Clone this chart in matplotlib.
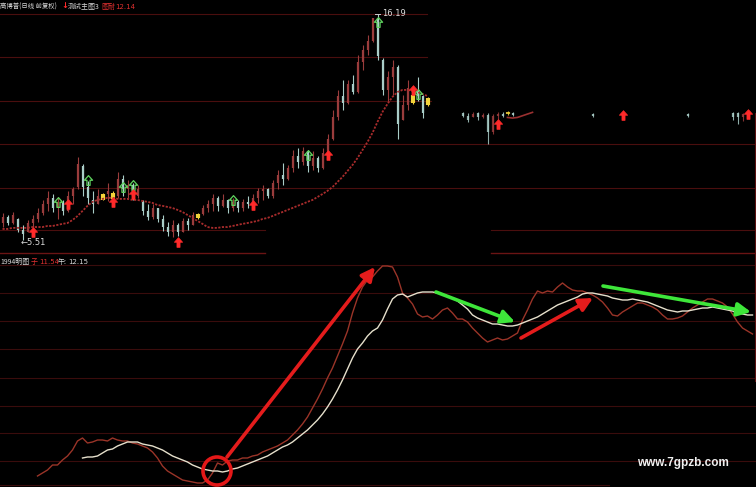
import numpy as np
import matplotlib
matplotlib.use("Agg")
import matplotlib.pyplot as plt
from matplotlib.path import Path
from matplotlib.patches import Ellipse

plt.rcParams['font.family'] = ['Noto Sans CJK SC', 'DejaVu Sans']

# ---------------- data: main chart (daily candles, price) ----------------
opens = [6.3, 6.6, 6.3, 6.5, 6.0, 5.9, 6.3, 6.5, 6.8, 7.2,
         7.5, 7.0, 7.3, 6.9, 7.6, 8.0, 9.0, 8.0, 7.4, 7.2,
         7.4, 7.7, 7.45, 7.6, 8.4, 7.9, 8.1, 7.6, 7.3, 6.9,
         6.6, 7.0, 6.5, 6.1, 5.9, 6.2, 5.9, 6.4, 6.2, 6.55,
         6.75, 7.0, 7.2, 7.5, 7.1, 7.4, 7.0, 7.3, 7.0, 7.3,
         7.2, 7.5, 7.8, 7.9, 7.6, 8.2, 8.6, 8.4, 8.9, 9.5,
         9.2, 9.7, 9.0, 9.4, 8.9, 9.6, 10.3, 11.3, 12.3, 12.0,
         12.9, 12.5, 13.9, 14.5, 14.9, 16.0, 14.0, 12.6, 13.2, 13.7,
         11.2, 11.9, 12.0, 12.6, 12.3, 11.9]
highs = [6.8, 6.7, 6.85, 6.55, 6.2, 6.45, 6.7, 7.0, 7.4, 7.8,
         7.7, 7.55, 7.4, 7.8, 8.0, 9.43, 9.1, 8.3, 7.8, 7.9,
         7.75, 8.2, 7.8, 8.7, 8.6, 8.35, 8.2, 8.1, 7.4, 7.2,
         7.2, 7.0, 6.7, 6.35, 6.45, 6.3, 6.55, 6.55, 6.85, 6.8,
         7.15, 7.4, 7.7, 7.6, 7.7, 7.45, 7.5, 7.4, 7.45, 7.6,
         7.7, 7.95, 8.1, 7.95, 8.35, 8.8, 9.15, 9.05, 9.76, 9.85,
         9.9, 9.76, 9.7, 9.5, 9.85, 10.5, 11.65, 12.6, 13.07, 13.07,
         13.3, 14.25, 14.7, 15.2, 16.0, 16.19, 14.1, 13.5, 14.0, 13.8,
         12.35, 13.07, 12.4, 13.2, 12.35, 12.25]
lows = [6.1, 6.2, 6.25, 5.9, 5.51, 5.9, 6.1, 6.35, 6.7, 6.9,
        6.85, 6.5, 6.7, 6.85, 7.2, 7.9, 7.6, 7.2, 6.8, 7.2,
        7.4, 7.35, 7.4, 7.5, 7.6, 7.5, 7.4, 7.5, 6.7, 6.45,
        6.5, 6.35, 5.95, 5.7, 5.65, 5.7, 5.9, 6.0, 6.2, 6.5,
        6.7, 6.85, 6.9, 6.9, 7.05, 6.8, 6.9, 6.85, 6.9, 7.0,
        7.05, 7.25, 7.4, 7.5, 7.5, 7.9, 8.1, 8.35, 8.7, 8.9,
        9.05, 8.7, 8.8, 8.7, 8.85, 9.5, 10.24, 11.2, 11.65, 11.95,
        12.4, 12.45, 13.54, 14.25, 14.85, 14.0, 12.35, 12.1, 12.35, 10.3,
        11.2, 11.65, 11.95, 12.1, 11.25, 11.85]
closes = [6.6, 6.3, 6.7, 6.0, 5.8, 6.3, 6.5, 6.8, 7.2, 7.5,
          7.0, 7.3, 6.9, 7.6, 7.9, 9.1, 8.0, 7.5, 7.2, 7.6,
          7.7, 7.8, 7.75, 8.4, 7.9, 8.1, 7.6, 7.9, 6.9, 6.6,
          7.0, 6.5, 6.1, 5.9, 6.2, 5.9, 6.4, 6.2, 6.7, 6.75,
          7.0, 7.2, 7.5, 7.1, 7.4, 7.0, 7.3, 7.0, 7.3, 7.2,
          7.5, 7.8, 7.9, 7.6, 8.2, 8.6, 8.4, 8.9, 9.5, 9.2,
          9.7, 9.0, 9.4, 8.9, 9.6, 10.3, 11.3, 12.3, 12.0, 12.9,
          12.5, 13.9, 14.5, 14.9, 16.0, 14.2, 12.6, 13.2, 13.7, 11.0,
          11.9, 12.7, 12.35, 12.3, 11.5, 12.2]
yellow_days = [20, 22, 39, 82, 85]

# moving average (dotted line) for the same days
ma_values = [6.03, 6.03, 6.08, 6.08, 6.08, 6.08, 6.12, 6.12, 6.12, 6.17,
             6.17, 6.22, 6.27, 6.31, 6.45, 6.64, 6.88, 7.12, 7.31, 7.40,
             7.45, 7.50, 7.50, 7.45, 7.45, 7.45, 7.40, 7.40, 7.35, 7.31,
             7.26, 7.16, 7.12, 7.07, 7.02, 6.93, 6.83, 6.69, 6.55, 6.41,
             6.27, 6.12, 6.08, 6.08, 6.12, 6.12, 6.17, 6.22, 6.27, 6.31,
             6.36, 6.41, 6.50, 6.55, 6.64, 6.74, 6.83, 6.93, 7.02, 7.12,
             7.21, 7.31, 7.40, 7.54, 7.68, 7.83, 8.01, 8.25, 8.49, 8.77,
             9.05, 9.38, 9.76, 10.14, 10.57, 11.09, 11.56, 11.94, 12.27, 12.50,
             12.60, 12.60, 12.55, 12.50, 12.41, 12.31]

# broken tail of the main chart (right part)
tail_days = [92, 93, 94, 95, 96, 97, 98, 99, 100, 101, 102, 118, 137, 146, 147, 148]
tail_open = [11.5, 11.35, 11.3, 11.5, 11.3, 11.4, 10.6, 11.35, 11.45, 11.45, 11.5, 11.45, 11.45, 11.5, 11.5, 11.3]
tail_high = [11.55, 11.5, 11.55, 11.55, 11.5, 11.5, 11.45, 11.55, 11.55, 11.6, 11.55, 11.5, 11.5, 11.55, 11.55, 11.5]
tail_low = [11.3, 11.1, 11.3, 11.2, 11.25, 10.05, 10.5, 11.2, 11.3, 11.4, 11.35, 11.3, 11.3, 11.2, 11.0, 11.15]
tail_close = [11.35, 11.2, 11.45, 11.3, 11.4, 10.6, 11.35, 11.45, 11.35, 11.55, 11.4, 11.35, 11.35, 11.3, 11.3, 11.45]
tail_yellow = [101]
tail_ma_days = [101, 102, 103, 104, 105, 106]
tail_ma = [11.30, 11.27, 11.30, 11.38, 11.46, 11.54]

green_sig_days = [11, 17, 24, 26, 46, 61, 75, 83]
green_sig_price = [7.31, 8.35, 8.01, 8.11, 7.40, 9.52, 15.8, 12.41]
red_sig_days = [6, 13, 22, 26, 35, 50, 65, 82, 99, 124, 149]
red_sig_price = [5.89, 7.21, 7.31, 7.68, 5.42, 7.16, 9.52, 12.6, 11.0, 11.42, 11.46]

price_grid = [16.19, 14.16, 12.08, 10.05, 7.97, 5.98]
price_grid_span = [(0, 0.565), (0, 0.565), (0, 0.57), (0, 1), (0, 1), (0, 0.35)]

# ---------------- data: indicator panel ----------------
zi_start = 7
zi_values = [11, 14, 17, 22, 22, 27, 31, 37, 46, 49,
             44, 45, 47, 47, 46, 49, 47, 46, 46, 44,
             43, 41, 39, 35, 29, 21, 16, 13, 10, 7,
             6, 5, 4, 4, 7, 14, 24, 22, 26, 27,
             27, 29, 29, 31, 32, 35, 37, 39, 41, 44,
             47, 52, 57, 63, 70, 79, 88, 98, 109, 119,
             131, 143, 156, 174, 189, 200, 207, 210, 216, 221,
             221, 220, 210, 194, 189, 183, 173, 170, 171, 168,
             172, 177, 179, 174, 168, 168, 165, 159, 154, 149,
             145, 147, 149, 147, 148, 151, 154, 167, 177, 188,
             196, 194, 196, 195, 200, 204, 200, 197, 196, 196,
             194, 192, 189, 185, 179, 172, 171, 175, 178, 181,
             184, 184, 182, 180, 177, 172, 168, 168, 169, 171,
             175, 179, 182, 185, 188, 188, 186, 184, 180, 173,
             165, 159, 156, 153]
wu_start = 16
wu_values = [29, 30, 30, 31, 34,
             37, 38, 41, 43, 45, 45, 45, 43, 42, 41,
             39, 37, 34, 31, 29, 27, 25, 22, 20, 18,
             17, 16, 16, 15, 16, 18, 19, 21, 23, 25,
             27, 29, 31, 34, 37, 40, 42, 45, 49, 53,
             57, 62, 67, 73, 80, 88, 97, 107, 118, 129,
             138, 144, 151, 156, 159, 167, 178, 188, 192, 193,
             190, 192, 194, 195, 195, 195, 194, 193, 191, 189,
             186, 182, 178, 172, 169, 167, 165, 163, 163, 162,
             161, 161, 162, 164, 166, 168, 170, 173, 176, 179,
             182, 184, 186, 188, 190, 193, 194, 194, 193, 192,
             191, 189, 188, 187, 187, 188, 187, 186, 185, 183,
             181, 179, 177, 176, 175, 176, 176, 177, 178, 179,
             179, 180, 179, 178, 177, 176, 174, 173, 172, 172]
ind_grid = [222, 194, 166, 138, 109, 81, 54, 26]

# annotation arrows: (tail day, tail value, head day, head value, color)
arrows = [(44.9, 30, 74.5, 220, '#e41c1c'),
          (86.7, 195, 102.5, 165, '#3ee63a'),
          (103.7, 149, 118.1, 189, '#e41c1c'),
          (120.1, 201, 149.7, 175, '#3ee63a')]
circle_day, circle_val = 42.9, 16

# ---------------- figure ----------------
W, H = 756, 487
fig = plt.figure(figsize=(W / 100, H / 100), dpi=100, facecolor='black')
top_h = 252
ax = fig.add_axes([0, 1 - top_h / H, 1, top_h / H], facecolor='black')
bx = fig.add_axes([0, 0, 1, 1 - top_h / H], facecolor='black')
XL = (-0.5, W / 5 - 0.5)
for a in (ax, bx):
    a.set_xlim(*XL)
    a.set_axis_off()
ax.set_ylim(4.94, 16.85)
bx.set_ylim(0, 235)

grid_col = '#4a0e0e'
for lvl, (x0, x1) in zip(price_grid, price_grid_span):
    ax.axhline(lvl, x0, x1, color=grid_col, lw=0.8, zorder=0)
ax.axhline(5.98, 0.65, 1.0, color=grid_col, lw=0.8, zorder=0)
for lvl in ind_grid:
    bx.axhline(lvl, 0, 1, color='#3a0c0c', lw=0.8, zorder=0)
bx.axhline(2, 0, 0.805, color='#3a0c0c', lw=0.8, zorder=0)
bx.axhline(234, 0, 0.35, color='#6a1414', lw=1.0, zorder=0)
bx.axhline(234, 0.65, 1.0, color='#6a1414', lw=1.0, zorder=0)
bx.axvline(150.5, 0.45, 1.0, color='#5a1010', lw=0.8)
ax.axvline(150.5, 0.0, 0.55, color='#5a1010', lw=0.8)

up_col, dn_col, yel = '#9a3c3c', '#a9cdc8', '#f2d23a'


def draw_candles(days, o, h, l, c, yellow, alpha=1.0):
    for d, oo, hh, ll, cc in zip(days, o, h, l, c):
        if d in yellow:
            ax.vlines(d, ll, hh, color=yel, lw=0.8, alpha=alpha)
            ax.vlines(d, min(oo, cc), max(oo, cc), color=yel, lw=3.0, alpha=alpha)
            continue
        col = up_col if cc >= oo else dn_col
        ax.vlines(d, ll, hh, color=col, lw=0.8, alpha=alpha)
        ax.vlines(d, min(oo, cc), max(oo, cc), color=col, lw=1.6, alpha=alpha)


days = list(range(len(closes)))
draw_candles(days, opens, highs, lows, closes, yellow_days)
draw_candles(tail_days, tail_open, tail_high, tail_low, tail_close, tail_yellow, alpha=0.85)
ax.plot(days, ma_values, color='#a82c2c', lw=1.3, ls=(0, (1.2, 0.8)), zorder=3)
ax.plot(tail_ma_days, tail_ma, color='#9a3030', lw=1.2, zorder=3)

up_arrow = Path([(0, 1), (0.85, 0.05), (0.32, 0.05), (0.32, -1), (-0.32, -1),
                 (-0.32, 0.05), (-0.85, 0.05), (0, 1)],
                [Path.MOVETO] + [Path.LINETO] * 6 + [Path.CLOSEPOLY])
ax.plot(green_sig_days, green_sig_price, ls='none', marker=up_arrow, ms=7,
        mfc='none', mec='#5fd35f', mew=0.9, zorder=5)
ax.plot(red_sig_days, red_sig_price, ls='none', marker=up_arrow, ms=7,
        mfc='#ff2a2a', mec='#ff2a2a', mew=0.5, zorder=5)

# peak / trough labels
ax.plot([74.4, 75.4], [16.19, 16.19], color='#cccccc', lw=0.7)
ax.text(75.9, 16.19, '16.19', color='#dddddd', fontsize=6, va='center', ha='left',
        family='DejaVu Sans')
ax.text(3.6, 5.37, '←5.51', color='#dddddd', fontsize=6, va='center', ha='left',
        family='DejaVu Sans')

# indicator lines
bx.plot(np.arange(zi_start, zi_start + len(zi_values)), zi_values, color='#9a3428', lw=1.0, zorder=3)
bx.plot(np.arange(wu_start, wu_start + len(wu_values)), wu_values, color='#e6e0cc', lw=1.0, zorder=4)

for x0, y0, x1, y1, col in arrows:
    bx.annotate('', xy=(x1, y1), xytext=(x0, y0),
                arrowprops=dict(arrowstyle='-|>,head_length=0.8,head_width=0.4',
                                color=col, lw=2.6, shrinkA=0, shrinkB=0), zorder=6)
bx.add_patch(Ellipse((circle_day, circle_val), width=5.6, height=28, fill=False,
                     ec='#e41818', lw=2.6, zorder=7))

# header texts
def ftext(xp, yp, s, **kw):
    fig.text(xp / W, 1 - yp / H, s, va='center', ha='left', **kw)

hs = 5.0
ftext(0, 7, '高博普(日线 前复权)', color='#d8d8d8', fontsize=4.6)
ftext(61, 6, '↓', color='#ff2a2a', fontsize=6, fontweight='bold', family='DejaVu Sans')
ftext(68, 7, '测试主图3', color='#d8d8d8', fontsize=hs)
ftext(101, 7, '图耐', color='#e03030', fontsize=hs)
ftext(115, 7, '12.14', color='#e03030', fontsize=hs, family='DejaVu Sans')
ftext(0, 262, '1994明图', color='#d8d8d8', fontsize=hs)
ftext(31, 262, '子', color='#e03030', fontsize=hs)
ftext(39, 262, '11.54', color='#e03030', fontsize=hs, family='DejaVu Sans')
ftext(58, 262, '午:', color='#d8d8d8', fontsize=hs)
ftext(68, 262, '12.15', color='#d8d8d8', fontsize=hs, family='DejaVu Sans')

ftext(637, 463, 'www.7gpzb.com', color='#f0f0f0', fontsize=8.5, fontweight='bold',
      family='Liberation Sans')

fig.savefig('out.png', dpi=100, facecolor='black')
